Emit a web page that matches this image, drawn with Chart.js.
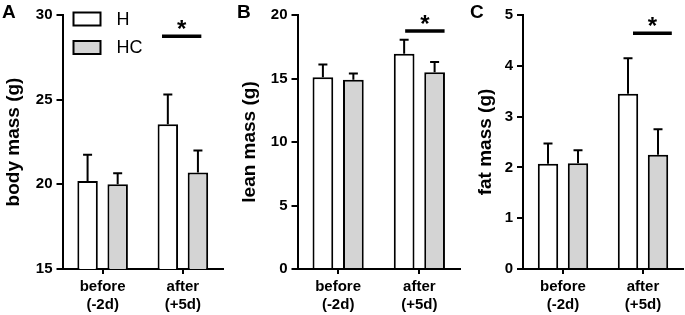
<!DOCTYPE html>
<html>
<head>
<meta charset="utf-8">
<script src="https://cdn.jsdelivr.net/npm/chart.js@4.4.0/dist/chart.umd.min.js"></script>
<style>
  html, body { margin: 0; padding: 0; background: #fff; }
  body { width: 685px; height: 315px; position: relative; overflow: hidden; }
  canvas { position: absolute; top: 0; }
</style>
</head>
<body>
<canvas id="panelA" width="228" height="315" style="left:0px"></canvas>
<canvas id="panelB" width="234" height="315" style="left:228px"></canvas>
<canvas id="panelC" width="223" height="315" style="left:462px"></canvas>
<script>
// categories and series
var groups = [['before', '(-2d)'], ['after', '(+5d)']];
var seriesNames = ['H', 'HC'];

// body mass (g)
var bodyH = [20.2, 23.55];
var bodyHC = [20.0, 20.7];
var bodyHErr = [1.55, 1.75];
var bodyHCErr = [0.65, 1.3];
var bodyTicks = [15, 20, 25, 30];

// lean mass (g)
var leanH = [15.1, 16.95];
var leanHC = [14.9, 15.5];
var leanHErr = [1.0, 1.1];
var leanHCErr = [0.5, 0.8];
var leanTicks = [0, 5, 10, 15, 20];

// fat mass (g)
var fatH = [2.07, 3.45];
var fatHC = [2.08, 2.25];
var fatHErr = [0.4, 0.7];
var fatHCErr = [0.26, 0.5];
var fatTicks = [0, 1, 2, 3, 4, 5];

// significance marks (y value of the bar)
var sigLevel = [28.75, 18.75, 4.64];

var FONT = 'Arial, "Liberation Sans", sans-serif';

// draws error bars, significance bar, legend and panel letter
var decoPlugin = {
  id: 'deco',
  afterDatasetsDraw: function (chart, args, opts) {
    var ctx = chart.ctx;
    var y = chart.scales.y, x = chart.scales.x;
    ctx.save();
    ctx.strokeStyle = '#000';
    ctx.lineWidth = 2;
    ctx.lineCap = 'butt';
    chart.data.datasets.forEach(function (ds, i) {
      var meta = chart.getDatasetMeta(i);
      meta.data.forEach(function (bar, j) {
        var top = y.getPixelForValue(ds.data[j] + ds.err[j]);
        ctx.beginPath();
        ctx.moveTo(bar.x, bar.y);
        ctx.lineTo(bar.x, top);
        ctx.moveTo(bar.x - 4.5, top);
        ctx.lineTo(bar.x + 4.5, top);
        ctx.stroke();
      });
    });

    // significance bar
    var sy = y.getPixelForValue(opts.sig);
    var x1 = x.getPixelForValue(opts.sigFrom);
    var x2 = x.getPixelForValue(opts.sigTo);
    ctx.lineWidth = 3.5;
    ctx.beginPath();
    ctx.moveTo(x1, sy);
    ctx.lineTo(x2, sy);
    ctx.stroke();
    ctx.fillStyle = '#000';
    ctx.font = 'bold 24px ' + FONT;
    ctx.textAlign = 'center';
    ctx.textBaseline = 'alphabetic';
    ctx.fillText('*', (x1 + x2) / 2, sy + 1);

    // legend
    if (opts.legend) {
      var lx = chart.chartArea.left + 11;
      ctx.lineWidth = 2;
      ctx.font = '18px ' + FONT;
      ctx.textAlign = 'left';
      ctx.textBaseline = 'middle';
      chart.data.datasets.forEach(function (ds, i) {
        var cy = chart.chartArea.top + 4 + i * 28.5;
        ctx.fillStyle = ds.backgroundColor;
        ctx.fillRect(lx, cy - 6.5, 27, 13);
        ctx.strokeRect(lx, cy - 6.5, 27, 13);
        ctx.fillStyle = '#000';
        ctx.fillText(ds.label, lx + 43, cy + 1);
      });
    }

    // panel letter
    ctx.fillStyle = '#000';
    ctx.font = 'bold 19px ' + FONT;
    ctx.textAlign = 'left';
    ctx.textBaseline = 'top';
    ctx.fillText(opts.letter, opts.letterX, 3);
    ctx.restore();
  }
};

function makePanel(id, letter, letterX, title, titlePad, hVals, hcVals, hErr, hcErr, ticks, sig, sigFrom, sigTo, yWidth, rightPad, legend) {
  var dTicks = ticks;
  new Chart(document.getElementById(id), {
    type: 'bar',
    data: {
      labels: groups,
      datasets: [
        { label: seriesNames[0], data: hVals, err: hErr, backgroundColor: '#ffffff', borderColor: '#000', borderWidth: 2, borderSkipped: 'start' },
        { label: seriesNames[1], data: hcVals, err: hcErr, backgroundColor: '#d4d4d4', borderColor: '#000', borderWidth: 2, borderSkipped: 'start' }
      ]
    },
    options: {
      responsive: false,
      animation: false,
      categoryPercentage: 0.75,
      barPercentage: 0.68,
      layout: { padding: { top: 15, right: rightPad, left: 0, bottom: 0 } },
      plugins: {
        legend: { display: false },
        tooltip: { enabled: false },
        deco: { letter: letter, letterX: letterX, sig: sig, sigFrom: sigFrom, sigTo: sigTo, legend: legend }
      },
      scales: {
        x: {
          offset: true,
          grid: { display: true, offset: false, drawOnChartArea: false, drawTicks: true, tickLength: 5, color: '#000', lineWidth: 2 },
          border: { display: true, color: '#000', width: 2 },
          ticks: { color: '#000', font: { family: FONT, size: 15, weight: 'bold' }, padding: 4, maxRotation: 0 },
          afterFit: function (s) { s.height = 46; }
        },
        y: {
          min: dTicks[0],
          max: dTicks[dTicks.length - 1],
          afterBuildTicks: function (s) { s.ticks = dTicks.map(function (v) { return { value: v }; }); },
          grid: { display: true, drawOnChartArea: false, drawTicks: true, tickLength: 6, color: '#000', lineWidth: 2 },
          border: { display: true, color: '#000', width: 2 },
          ticks: { color: '#000', font: { family: FONT, size: 15, weight: 'bold' }, padding: 4 },
          title: { display: true, text: title, color: '#000', font: { family: FONT, size: 19, weight: 'bold' }, padding: { top: titlePad, bottom: 0 } },
          afterFit: function (s) { s.width = yWidth; }
        }
      }
    },
    plugins: [decoPlugin]
  });
}

makePanel('panelA', 'A', 2, 'body mass (g)', 2, bodyH, bodyHC, bodyHErr, bodyHCErr, bodyTicks, sigLevel[0], 0.74, 1.23, 62.5, 5, true);
makePanel('panelB', 'B', 9, 'lean mass (g)', 10, leanH, leanHC, leanHErr, leanHCErr, leanTicks, sigLevel[1], 0.825, 1.31, 69.5, 2, false);
makePanel('panelC', 'C', 8, 'fat mass (g)', 12, fatH, fatHC, fatHErr, fatHCErr, fatTicks, sigLevel[2], 0.875, 1.36, 61, 2, false);
</script>
</body>
</html>
